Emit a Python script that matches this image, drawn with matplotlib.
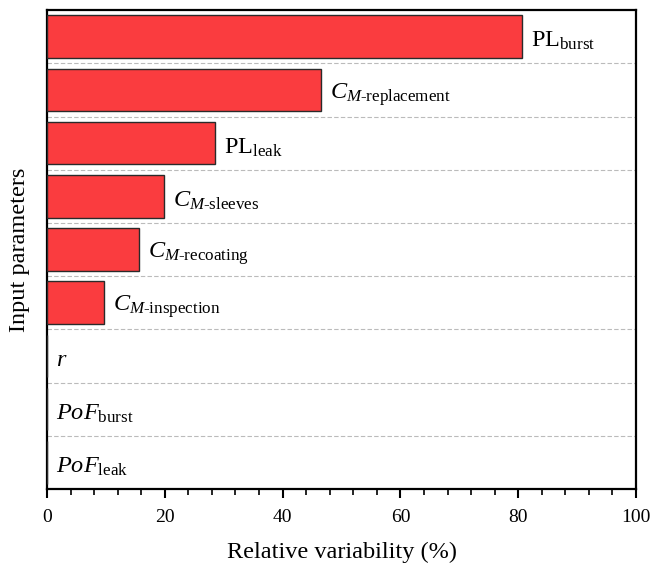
import matplotlib
matplotlib.use("Agg")
import matplotlib.pyplot as plt
import numpy as np
from matplotlib.ticker import MultipleLocator

plt.rcParams['font.family'] = 'Liberation Serif'
plt.rcParams['mathtext.fontset'] = 'custom'
plt.rcParams['mathtext.rm'] = 'Liberation Serif'
plt.rcParams['mathtext.it'] = 'Liberation Serif:italic'
plt.rcParams['mathtext.bf'] = 'Liberation Serif:bold'

labels = [r'$\mathrm{PL}_{\mathrm{burst}}$',
          r'$C_{M\mathrm{\text{-}replacement}}$',
          r'$\mathrm{PL}_{\mathrm{leak}}$',
          r'$C_{M\mathrm{\text{-}sleeves}}$',
          r'$C_{M\mathrm{\text{-}recoating}}$',
          r'$C_{M\mathrm{\text{-}inspection}}$',
          r'$r$',
          r'$PoF_{\mathrm{burst}}$',
          r'$PoF_{\mathrm{leak}}$']
values = [80.6, 46.6, 28.6, 19.9, 15.7, 9.7, 0, 0, 0]

fig = plt.figure(figsize=(6.53, 5.64), dpi=100)
ax = fig.add_axes([0.072, 0.133, 0.902, 0.849])

y = np.arange(len(values))
ax.barh(y, values, height=0.8, color='#FA3C3F', edgecolor='#2a2a2a', linewidth=1.0, zorder=3)

for yi, v, lab in zip(y, values, labels):
    ax.text(v + 1.5, yi + 0.08, lab, fontsize=17.5, va='center', ha='left', zorder=4)

for b in np.arange(0.5, len(values) - 0.5, 1.0):
    ax.axhline(b, color='#BBBBBB', linestyle=(0, (4, 2)), linewidth=0.8, zorder=1)

ax.set_ylim(len(values) - 0.5, -0.5)
ax.set_xlim(0, 100)
ax.xaxis.set_major_locator(MultipleLocator(20))
ax.xaxis.set_minor_locator(MultipleLocator(4))
ax.tick_params(axis='x', which='major', direction='out', length=6.5, width=1.5, labelsize=14, pad=8)
ax.tick_params(axis='x', which='minor', direction='out', length=4, width=1.2)
ax.set_yticks([])
for s in ax.spines.values():
    s.set_linewidth(1.6)

ax.set_xlabel('Relative variability (%)', fontsize=17.5, labelpad=11)
ax.set_ylabel('Input parameters', fontsize=17.5, labelpad=12)

fig.savefig('out.png', dpi=100)
